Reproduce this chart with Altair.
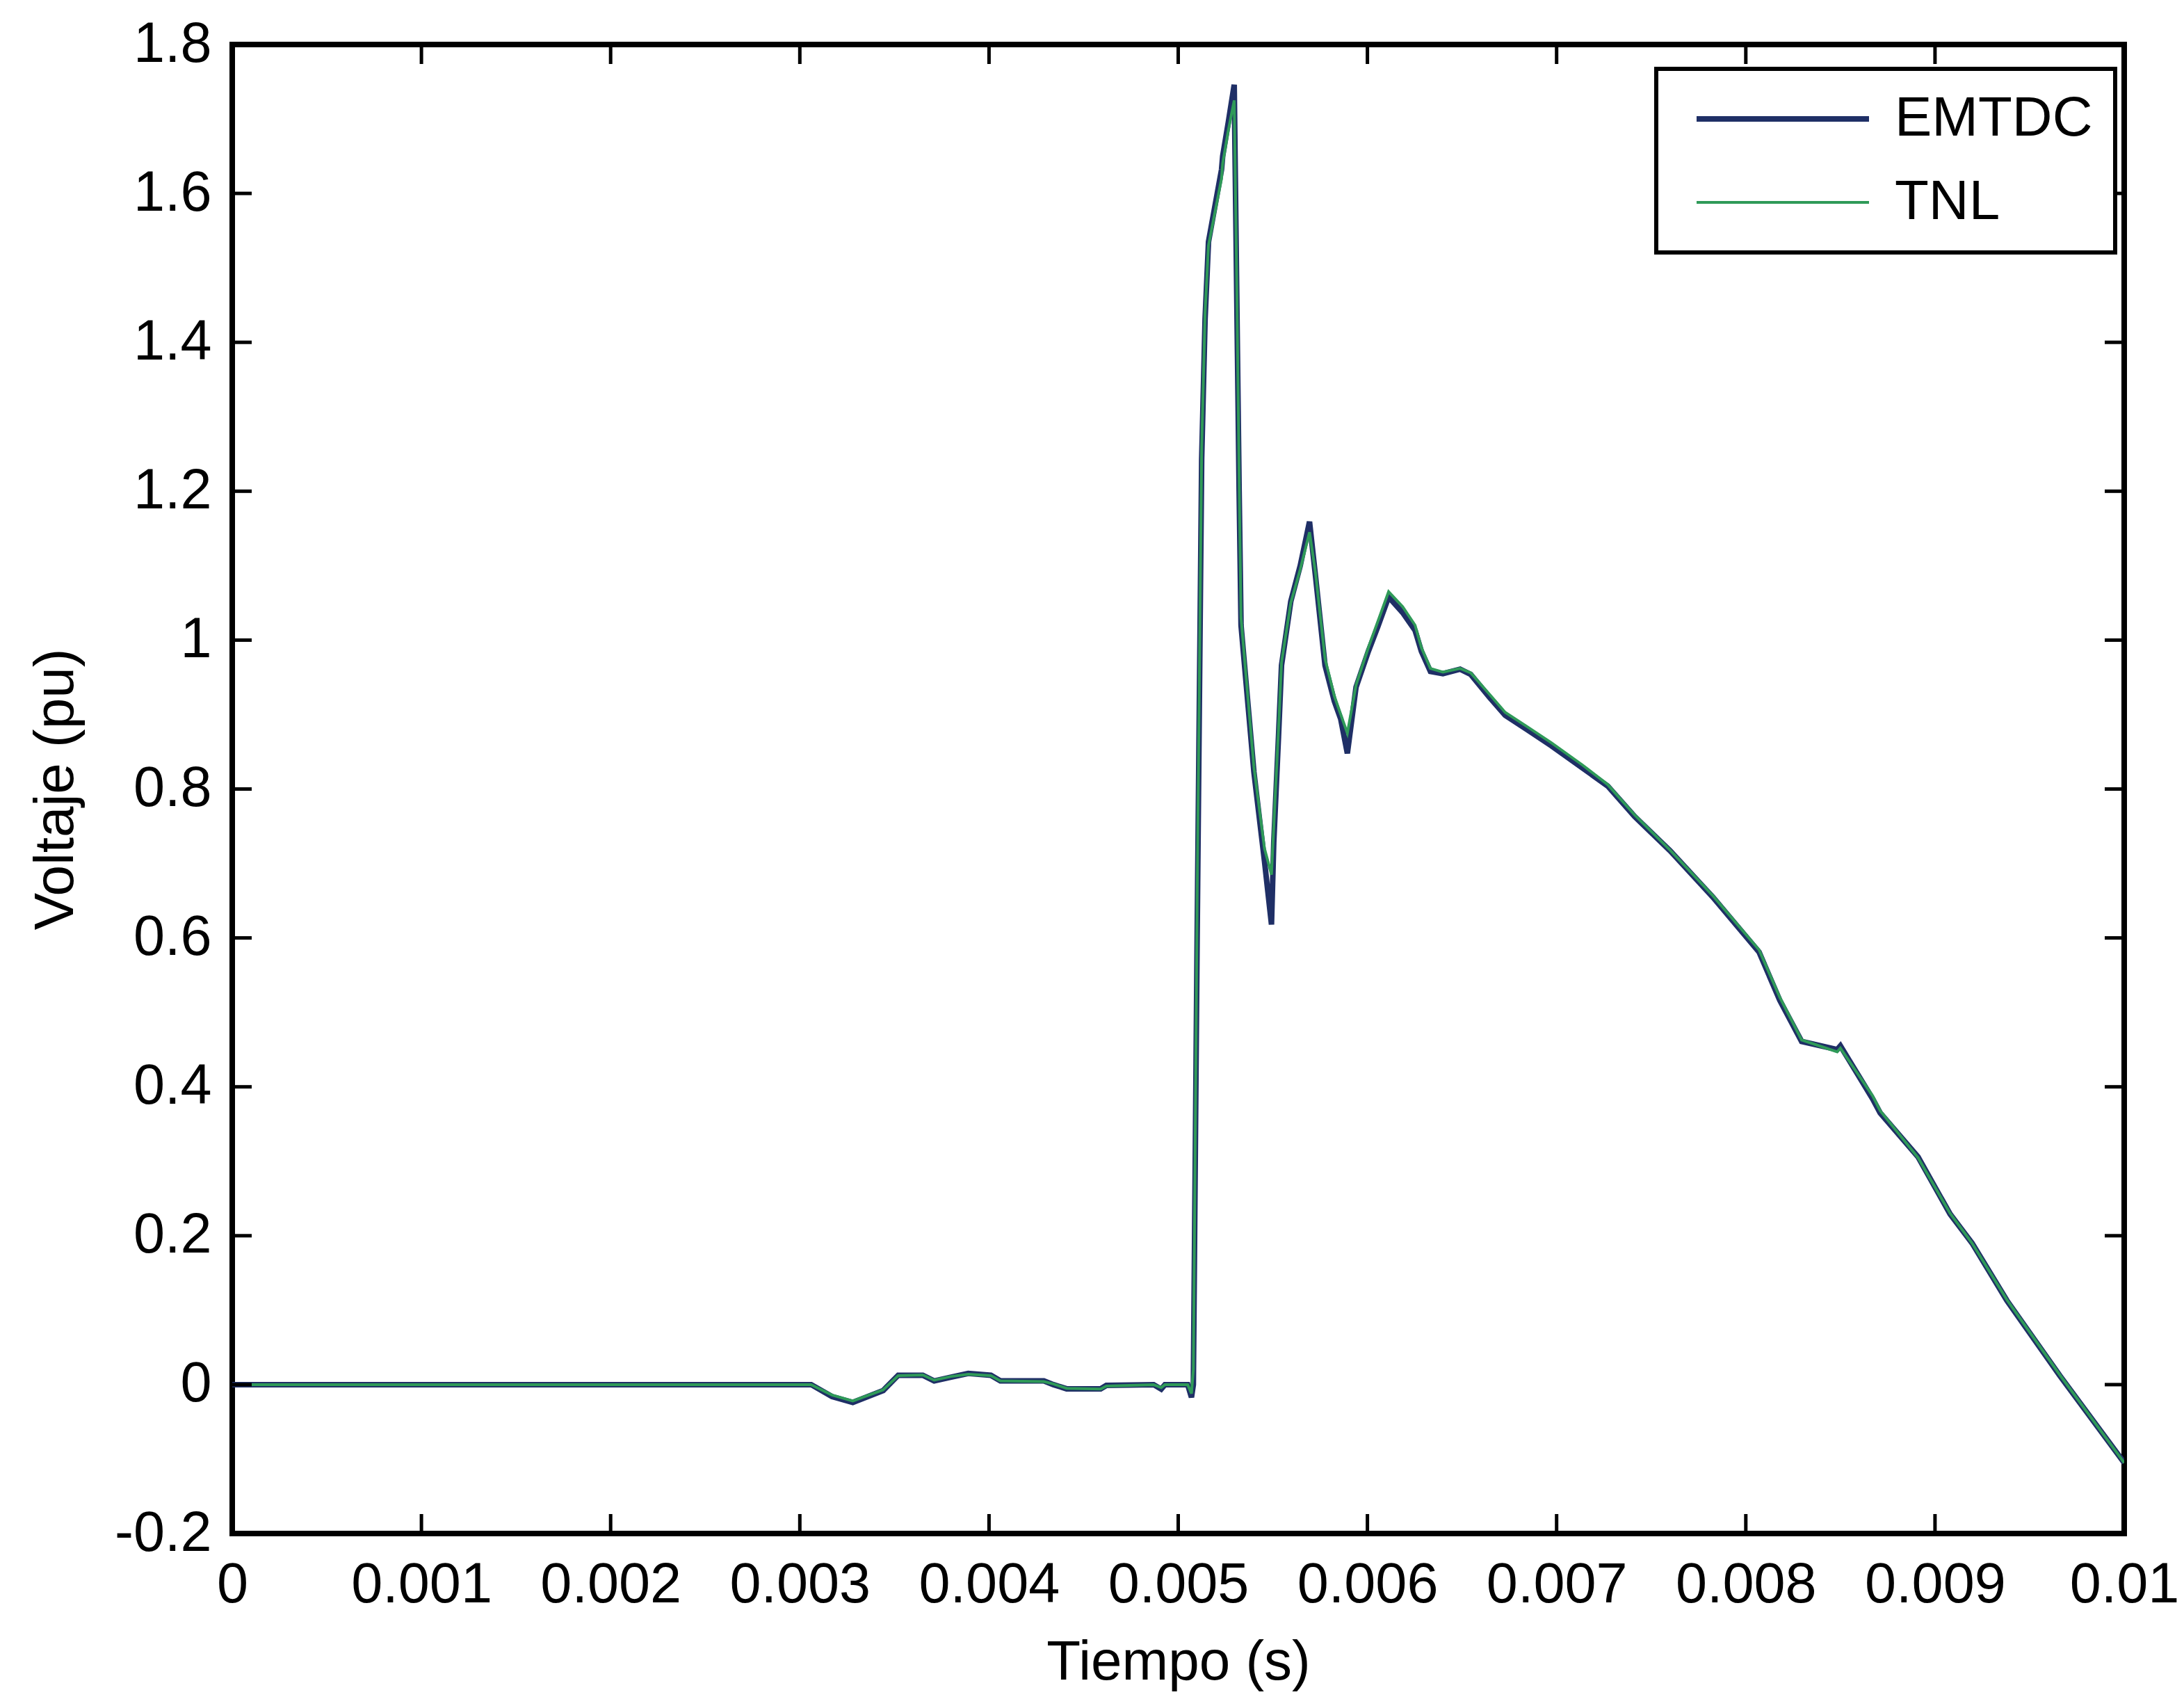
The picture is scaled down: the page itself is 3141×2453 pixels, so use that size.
import altair as alt
import pandas as pd

# Time samples (ms) and the voltage (pu) of both simulations
time_ms = [0, 3.06, 3.17, 3.28, 3.44, 3.52, 3.65, 3.71, 3.80, 3.89, 4.01, 4.06,
           4.29, 4.34, 4.41, 4.59, 4.62, 4.87, 4.91, 4.93, 5.05, 5.07, 5.08, 5.10,
           5.124, 5.142, 5.16, 5.229, 5.235, 5.265, 5.296, 5.310, 5.322, 5.332,
           5.40, 5.456, 5.493, 5.505, 5.530, 5.546, 5.595, 5.645, 5.694, 5.726,
           5.776, 5.825, 5.859, 5.894, 5.94, 6.005, 6.055, 6.112, 6.186, 6.252,
           6.285, 6.333, 6.399, 6.49, 6.546, 6.646, 6.728, 6.843, 6.973, 7.138,
           7.27, 7.413, 7.60, 7.825, 8.07, 8.18, 8.295, 8.483, 8.50, 8.67, 8.71,
           8.91, 9.08, 9.196, 9.38, 9.66, 10.0]

emtdc_pu = [0, 0, -0.016, -0.024, -0.008, 0.0125, 0.0125, 0.005, 0.010, 0.015, 0.0125, 0.005,
            0.005, 0, -0.0056, -0.0056, -0.001, 0, -0.006, 0, 0, -0.017, 0, 0.6,
            1.243, 1.431, 1.535, 1.632, 1.650, 1.696, 1.746, 1.45, 1.20, 1.02,
            0.823, 0.703, 0.618, 0.728, 0.870, 0.966, 1.052, 1.10, 1.159, 1.085,
            0.966, 0.918, 0.894, 0.848, 0.937, 0.985, 1.018, 1.058, 1.037, 1.013,
            0.985, 0.958, 0.955, 0.961, 0.954, 0.923, 0.899, 0.880, 0.858, 0.828,
            0.804, 0.763, 0.717, 0.655, 0.581, 0.516, 0.461, 0.450, 0.455, 0.384, 0.365,
            0.306, 0.229, 0.19, 0.113, 0.012, -0.105]

tnl_pu = [0, 0, -0.014, -0.022, -0.007, 0.012, 0.013, 0.006, 0.011, 0.014, 0.012, 0.005,
          0.004, 0.001, -0.005, -0.006, -0.002, 0, -0.004, 0, 0, -0.012, 0.02, 0.65,
          1.26, 1.44, 1.53, 1.62, 1.64, 1.685, 1.725, 1.47, 1.22, 1.03,
          0.83, 0.72, 0.685, 0.75, 0.88, 0.97, 1.05, 1.095, 1.145, 1.09,
          0.975, 0.925, 0.90, 0.875, 0.94, 0.99, 1.025, 1.065, 1.045, 1.02,
          0.99, 0.962, 0.957, 0.962, 0.956, 0.927, 0.903, 0.884, 0.862, 0.832,
          0.806, 0.765, 0.718, 0.657, 0.584, 0.52, 0.463, 0.447, 0.452, 0.388, 0.368,
          0.305, 0.23, 0.19, 0.114, 0.013, -0.105]

series_names = ["EMTDC", "TNL"]
series_colors = ["#1f2f66", "#2f9a58"]
series_widths = [8, 4]

x_ticks = [0, 0.001, 0.002, 0.003, 0.004, 0.005, 0.006, 0.007, 0.008, 0.009, 0.01]
y_ticks = [-0.2, 0, 0.2, 0.4, 0.6, 0.8, 1, 1.2, 1.4, 1.6, 1.8]

W, H = 2721, 2141
TICK_LEN = 28
FONT = "Liberation Sans"

rows = []
for name, values in zip(series_names, [emtdc_pu, tnl_pu]):
    for t, v in zip(time_ms, values):
        rows.append({"t": t / 1000.0, "v": v, "serie": name})
df = pd.DataFrame(rows)

x_scale = alt.Scale(domain=[0, 0.01], nice=False, zero=False)
y_scale = alt.Scale(domain=[-0.2, 1.8], nice=False, zero=False)

x_axis = alt.Axis(
    values=x_ticks, labelExpr="'' + datum.value", ticks=False, domain=False,
    grid=False, labelFontSize=81, labelPadding=34, labelFlush=False, labelLimit=0,
    labelOverlap=False, labelFont=FONT, labelColor="black",
    title="Tiempo (s)", titleFont=FONT, titleFontSize=80, titleFontWeight="normal",
    titleColor="black", titleY=185, titleBaseline="middle")
y_axis = alt.Axis(
    values=y_ticks, labelExpr="'' + datum.value", ticks=False, domain=False,
    grid=False, labelFontSize=81, labelPadding=30, labelFlush=False, labelLimit=0,
    labelOverlap=False, labelFont=FONT, labelColor="black",
    title="Voltaje (pu)", titleFont=FONT, titleFontSize=80, titleFontWeight="normal",
    titleColor="black", titleAngle=270, titleX=-254, titleY=H / 2,
    titleAlign="center", titleBaseline="middle")

lines = alt.Chart(df).mark_line(clip=True).encode(
    x=alt.X("t:Q", scale=x_scale, axis=x_axis),
    y=alt.Y("v:Q", scale=y_scale, axis=y_axis),
    color=alt.Color("serie:N", scale=alt.Scale(domain=series_names, range=series_colors),
                    legend=alt.Legend(
                        title=None, orient="none", legendX=2048, legendY=35,
                        symbolType="stroke", symbolSize=248 * 248, symbolStrokeWidth=5,
                        clipHeight=80, padding=32, rowPadding=40, symbolOffset=22,
                        labelOffset=33, labelFontSize=80, labelFont=FONT, labelLimit=0,
                        labelColor="black", strokeColor="black", fillColor="white")),
    strokeWidth=alt.StrokeWidth("serie:N", scale=alt.Scale(domain=series_names, range=series_widths),
                                legend=None),
)

xt = pd.DataFrame({"t": x_ticks})
yt = pd.DataFrame({"v": y_ticks})
tick = dict(color="black", strokeWidth=5)

ticks_bottom = alt.Chart(xt).mark_rule(**tick).encode(
    x=alt.X("t:Q", scale=x_scale, axis=x_axis), y=alt.value(H), y2=alt.value(H - TICK_LEN))
ticks_top = alt.Chart(xt).mark_rule(**tick).encode(
    x=alt.X("t:Q", scale=x_scale, axis=x_axis), y=alt.value(0), y2=alt.value(TICK_LEN))
ticks_left = alt.Chart(yt).mark_rule(**tick).encode(
    y=alt.Y("v:Q", scale=y_scale, axis=y_axis), x=alt.value(0), x2=alt.value(TICK_LEN))
ticks_right = alt.Chart(yt).mark_rule(**tick).encode(
    y=alt.Y("v:Q", scale=y_scale, axis=y_axis), x=alt.value(W), x2=alt.value(W - TICK_LEN))

chart = alt.layer(lines, ticks_bottom, ticks_top, ticks_left, ticks_right).properties(
    width=W, height=H,
    padding={"left": 334, "top": 64, "right": 86, "bottom": 248},
    autosize=alt.AutoSizeParams(type="none"),
    background="white",
).configure_view(
    stroke="black", strokeWidth=8
).configure_legend(
    strokeWidth=6
)

chart.save("out.html", embed_options={"renderer": "svg", "actions": False})
